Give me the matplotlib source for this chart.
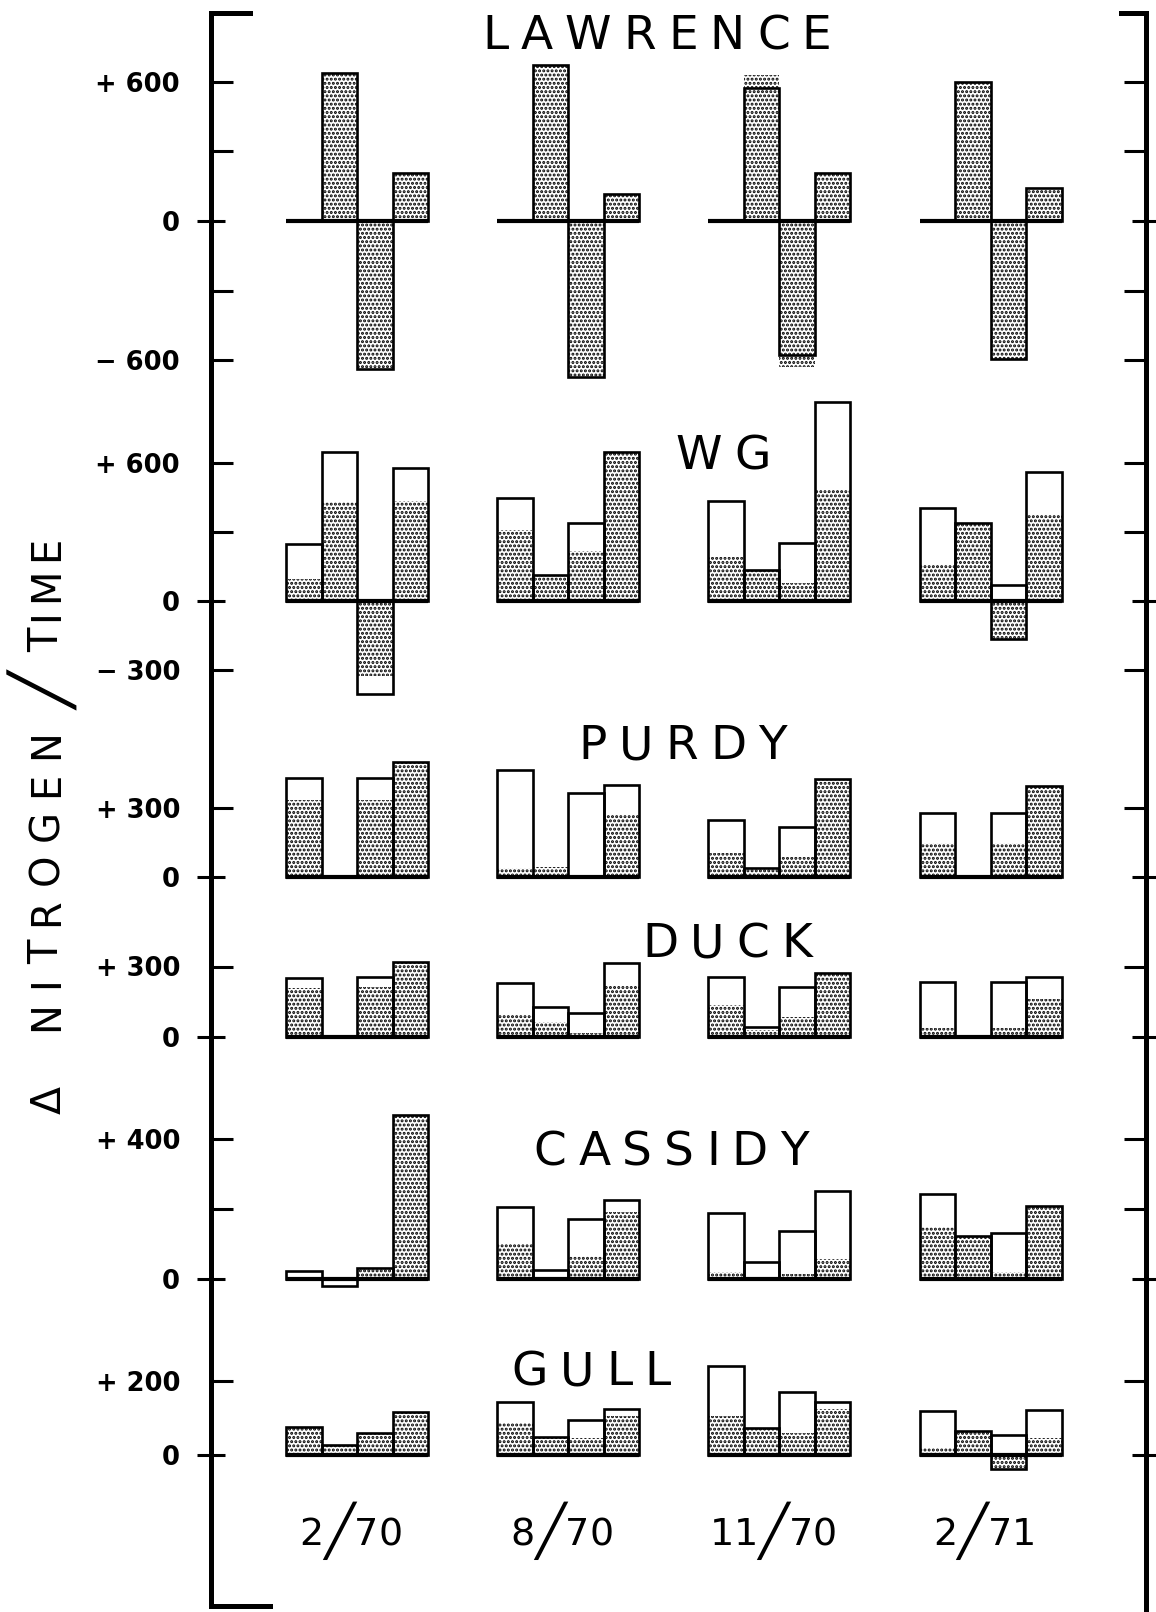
import numpy as np
import matplotlib
matplotlib.use("Agg")
import matplotlib.pyplot as plt
from matplotlib.ticker import FixedLocator, FixedFormatter
from matplotlib.lines import Line2D
from matplotlib.font_manager import FontProperties, findfont
from matplotlib.ft2font import FT2Font

W, H, DPI = 1156, 1612, 100

dates = ["2\u257170", "8\u257170", "11\u257170", "2\u257171"]
names = ["LAWRENCE", "WG", "PURDY", "DUCK", "CASSIDY", "GULL"]

# outline (total) height of each bar, 4 bars per date
lawrence_total = [[0, 639, -637, 209], [0, 675, -673, 118], [0, 576, -580, 209], [0, 600, -594, 142]]
wg_total = [[248, 648, -404, 578], [449, 113, 338, 647], [435, 136, 254, 867], [403, 338, 68, 562]]
purdy_total = [[432, 0, 432, 501], [465, 0, 364, 400], [248, 40, 219, 425], [277, 0, 277, 396]]
duck_total = [[250, 0, 254, 318], [228, 129, 101, 313], [254, 44, 214, 274], [235, 0, 233, 254]]
cassidy_total = [[22, -19, 32, 468], [206, 26, 172, 225], [189, 48, 136, 252], [243, 124, 132, 209]]
gull_total = [[75, 26, 59, 116], [144, 50, 95, 124], [240, 74, 171, 143], [118, 65, 53, 122]]

# stippled part of each bar
lawrence_stip = [[0, 639, -637, 209], [0, 675, -673, 118], [0, 629, -630, 209], [0, 600, -594, 142]]
wg_stip = [[96, 430, -326, 435], [309, 113, 219, 647], [190, 136, 77, 486], [161, 338, -165, 374]]
purdy_stip = [[335, 0, 335, 501], [40, 45, 0, 270], [103, 40, 88, 425], [146, 0, 146, 396]]
duck_stip = [[207, 0, 211, 318], [94, 65, 16, 221], [136, 30, 86, 274], [37, 0, 37, 162]]
cassidy_stip = [[0, 0, 32, 468], [100, 0, 66, 192], [20, 0, 15, 56], [148, 124, 20, 209]]
gull_stip = [[75, 26, 59, 116], [87, 50, 47, 106], [106, 74, 60, 124], [18, 65, -37, 46]]

totals = [lawrence_total, wg_total, purdy_total, duck_total, cassidy_total, gull_total]
stipples = [lawrence_stip, wg_stip, purdy_stip, duck_stip, cassidy_stip, gull_stip]

ticks = [[600, 300, -300, -600], [600, 300, -300], [300], [300], [400, 200], [200]]
tick_labels = [["+ 600", "", "", "\u2212 600"], ["+ 600", "", "\u2212 300"], ["+ 300"],
               ["+ 300"], ["+ 400", ""], ["+ 200"]]

# layout in pixels
zero_px = [221, 601, 877, 1037, 1279, 1455]
px_per_unit = [0.2317, 0.230, 0.230, 0.235, 0.350, 0.370]
title_pos = [(657, 32), (723, 452), (683, 742), (727, 940), (671, 1148), (591, 1368)]
LEFT, RIGHT = 211, 1146
BAR0, BARW, STEP = 303.75, 35.5, 5.95
SL = "\u2571"  # long thin diagonal

REG = ("DejaVu Sans", "normal")
_fonts = {}


def fx(px):
    return px / W


def fy(py):
    return 1 - py / H


def advance(ch, size, font):
    if font not in _fonts:
        _fonts[font] = FT2Font(findfont(FontProperties(family=font[0], weight=font[1])))
    ft = _fonts[font]
    ft.set_size(size * 72 / DPI, DPI)
    return ft.load_char(ord(ch)).linearHoriAdvance / 65536


def spaced(fig, x, y, parts, track, rotation=0):
    # parts: (char, size px, shift px, font); x,y = centre / baseline in pixels
    adv = [advance(c, s, f) for c, s, _, f in parts]
    total = sum(adv) + track * (len(parts) - 1)
    pos = -total / 2
    for (c, s, d, f), a in zip(parts, adv):
        mid = pos + a / 2
        if rotation == 0:
            px, py = x + mid, y + d
        else:
            px, py = x + d, y - mid
        fig.text(fx(px), fy(py), c, size=s * 72 / DPI, ha="center", va="baseline",
                 family=f[0], weight=f[1], rotation=rotation, rotation_mode="anchor")
        pos += a + track


def main():
    plt.rcParams["hatch.linewidth"] = 1.45
    fig = plt.figure(figsize=(W / DPI, H / DPI), dpi=DPI)

    for k in range(len(names)):
        z, sc = zero_px[k], px_per_unit[k]
        ax = fig.add_axes([fx(LEFT), 0, fx(RIGHT) - fx(LEFT), 1])
        ax.patch.set_visible(False)
        for sp in ax.spines.values():
            sp.set_visible(False)
        ax.set_xlim(-(BAR0 - LEFT) / BARW, (RIGHT - BAR0) / BARW)
        ax.set_ylim(-(H - z) / sc, z / sc)

        for g in range(len(dates)):
            xs = g * STEP + np.arange(4)
            t = np.array(totals[k][g])
            s = np.array(stipples[k][g])
            ax.bar(xs, s, width=1, facecolor="none", edgecolor="black",
                   linewidth=0, hatch="....")
            ax.bar(xs, t, width=1, facecolor="none", edgecolor="black", linewidth=1.9)
            opp = np.sign(s) * np.sign(t) < 0
            if opp.any():
                ax.bar(xs[opp], s[opp], width=1, facecolor="none",
                       edgecolor="black", linewidth=1.9)
            ax.hlines(0, xs[0] - 0.5, xs[-1] + 0.5, color="black", linewidth=3)

        ax.yaxis.set_major_locator(FixedLocator(ticks[k]))
        ax.yaxis.set_major_formatter(FixedFormatter(tick_labels[k]))
        ax.yaxis.set_minor_locator(FixedLocator([0]))
        ax.yaxis.set_minor_formatter(FixedFormatter(["0"]))
        ax.tick_params(axis="y", which="major", direction="in", length=15.8, width=2.2,
                       pad=22.3, left=True, right=True, labelsize=18.5)
        ax.tick_params(axis="y", which="minor", direction="inout", length=20, width=2.2,
                       pad=12.3, left=True, right=True, labelsize=18.5)
        ax.tick_params(axis="x", bottom=False, labelbottom=False)
        for lab in ax.get_yticklabels(which="both"):
            lab.set_fontweight("bold")

        cx, cy = title_pos[k]
        spaced(fig, cx, cy + 17, [(c, 47, 0, REG) for c in names[k]], 12)

    # frame brackets
    fig.add_artist(Line2D([fx(250), fx(LEFT), fx(LEFT), fx(270)], [fy(13), fy(13), fy(1606), fy(1606)],
                          color="black", linewidth=3.6, solid_joinstyle="miter"))
    fig.add_artist(Line2D([fx(1121), fx(RIGHT), fx(RIGHT)], [fy(13), fy(13), fy(H)],
                          color="black", linewidth=3.6, solid_joinstyle="miter"))

    # date labels
    for g, d in enumerate(dates):
        cx = BAR0 + (g * STEP + 1.5) * BARW - 6
        parts = [(c, 50, 3, REG) if c == SL else (c, 38, 0, REG) for c in d]
        spaced(fig, cx, 1545, parts, 0)

    # y label
    spaced(fig, 61, 1100, [("\u0394", 41, 0, REG)], 0, rotation=90)
    spaced(fig, 58.6, 880, [(c, 40, 0, REG) for c in "NITROGEN"], 13, rotation=90)
    spaced(fig, 66, 692, [(SL, 60, 0, REG)], 0, rotation=90)
    spaced(fig, 58.6, 594, [(c, 40, 0, REG) for c in "TIME"], 7, rotation=90)

    fig.savefig("out.png", dpi=DPI)


if __name__ == "__main__":
    main()
